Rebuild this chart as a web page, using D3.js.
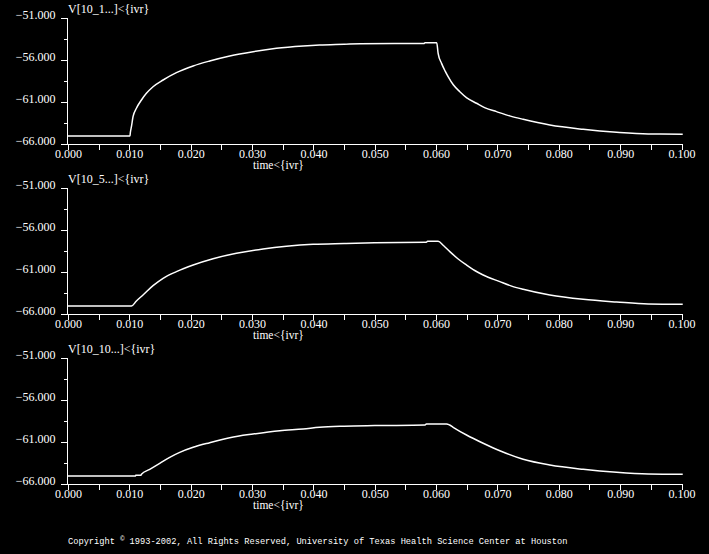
<!DOCTYPE html>
<html>
<head>
<meta charset="utf-8">
<script src="https://cdn.jsdelivr.net/npm/d3@7"></script>
<style>
  html, body { margin: 0; padding: 0; background: #000; }
  svg { display: block; }
</style>
</head>
<body>
<script>
// ---- data ----
const panelTitles = ["V[10_1...]<{ivr}", "V[10_5...]<{ivr}", "V[10_10...]<{ivr}"];
const xLabel = "time<{ivr}";
const xMajorTicks = [0, 0.01, 0.02, 0.03, 0.04, 0.05, 0.06, 0.07, 0.08, 0.09, 0.10];
const xMinorTicks = [0.005, 0.015, 0.025, 0.035, 0.045, 0.055, 0.065, 0.075, 0.085, 0.095];
const yMajorTicks = [-51, -56, -61, -66];
const yMinorTicks = [-53.5, -58.5, -63.5];
const copyrightA = "Copyright ";
const copyrightSym = "\u00A9";
const copyrightB = " 1993-2002, All Rights Reserved, University of Texas Health Science Center at Houston";

const time1 = [0, 0.0101, 0.01017, 0.01034, 0.0106, 0.01115, 0.01197, 0.01278, 0.01386, 0.0155, 0.01767, 0.0204, 0.0231, 0.02637, 0.03017, 0.03398, 0.03832, 0.041, 0.045, 0.0476, 0.058, 0.0582, 0.0601, 0.06033, 0.06089, 0.0615, 0.06196, 0.0628, 0.06387, 0.065, 0.06659, 0.068, 0.06985, 0.072, 0.07419, 0.07854, 0.08397, 0.08942, 0.09457, 0.1002];
const volt1 = [-65.05, -65.05, -64.6, -63.94, -62.75, -61.75, -60.76, -59.97, -59.18, -58.38, -57.51, -56.71, -56.12, -55.52, -55.01, -54.61, -54.33, -54.21, -54.12, -54.06, -54.04, -53.94, -53.94, -55.2, -56.4, -57.35, -57.98, -58.95, -59.77, -60.5, -61.15, -61.7, -62.15, -62.65, -63.06, -63.74, -64.25, -64.61, -64.81, -64.83];

const time2 = [0, 0.01034, 0.01115, 0.01223, 0.01386, 0.0155, 0.01767, 0.0204, 0.02364, 0.02746, 0.0318, 0.03561, 0.03995, 0.045, 0.05, 0.0584, 0.0586, 0.06033, 0.0612, 0.06224, 0.0636, 0.06496, 0.0663, 0.06767, 0.07039, 0.0722, 0.07419, 0.07854, 0.08397, 0.08942, 0.09457, 0.1002];
const volt2 = [-65.05, -65.05, -64.45, -63.74, -62.63, -61.75, -60.96, -60.17, -59.42, -58.77, -58.26, -57.94, -57.70, -57.6, -57.52, -57.47, -57.35, -57.35, -57.85, -58.58, -59.45, -60.17, -60.82, -61.36, -62.15, -62.65, -63.06, -63.74, -64.25, -64.57, -64.81, -64.85];

const time3 = [0, 0.0110, 0.01104, 0.0119, 0.01197, 0.01332, 0.01495, 0.01658, 0.01821, 0.0204, 0.0231, 0.02637, 0.03017, 0.03452, 0.03832, 0.041, 0.045, 0.05, 0.0582, 0.0584, 0.0617, 0.0622, 0.06278, 0.06496, 0.06767, 0.07039, 0.07419, 0.07854, 0.08397, 0.08942, 0.09457, 0.1002];
const volt3 = [-65.05, -65.05, -64.95, -64.95, -64.85, -64.25, -63.54, -62.82, -62.23, -61.63, -61.08, -60.49, -60.05, -59.65, -59.45, -59.25, -59.12, -59.05, -58.98, -58.86, -58.86, -58.98, -59.25, -60.17, -61.15, -62.04, -63.06, -63.74, -64.25, -64.61, -64.81, -64.85];

const seriesTimes = [time1, time2, time3];
const seriesVolts = [volt1, volt2, volt3];

// ---- drawing ----
const W = 709, H = 554;
const panelStep = 170;
const fg = "#ffffff";
const serif = "'Liberation Serif', 'Times New Roman', serif";

const svg = d3.select("body").append("svg")
  .attr("width", W).attr("height", H)
  .style("background", "#000");

const x = d3.scaleLinear().domain([0, 0.1]).range([68, 681.5]);
const y = d3.scaleLinear().domain([-66, -51]).range([144, 18]);

const line = d3.line()
  .x(d => x(d[0]))
  .y(d => y(d[1]))
  .curve(d3.curveMonotoneX);

panelTitles.forEach((title, i) => {
  const g = svg.append("g").attr("transform", `translate(0,${i * panelStep})`);

  // axis lines
  g.append("line").attr("x1", 67.5).attr("x2", 67.5).attr("y1", y(-51)).attr("y2", y(-66) + 0.5)
    .attr("stroke", fg).attr("stroke-width", 1).attr("shape-rendering", "crispEdges");
  g.append("line").attr("x1", 67).attr("x2", 683).attr("y1", y(-66) + 0.5).attr("y2", y(-66) + 0.5)
    .attr("stroke", fg).attr("stroke-width", 1).attr("shape-rendering", "crispEdges");

  // x axis major
  const xa = g.append("g").attr("transform", `translate(0,${y(-66)})`)
    .call(d3.axisBottom(x).tickValues(xMajorTicks).tickFormat(d3.format(".3f"))
      .tickSize(6).tickSizeOuter(0).tickPadding(0));
  xa.select(".domain").remove();
  xa.selectAll("line").attr("stroke", fg).attr("shape-rendering", "crispEdges");
  xa.selectAll("text").attr("y", 13.5).attr("dy", 0)
    .attr("fill", fg).style("font-family", serif).style("font-size", "12px");

  // x axis minor
  const xm = g.append("g").attr("transform", `translate(0,${y(-66)})`)
    .call(d3.axisBottom(x).tickValues(xMinorTicks).tickFormat("").tickSize(6).tickSizeOuter(0));
  xm.select(".domain").remove();
  xm.selectAll("line").attr("stroke", fg).attr("shape-rendering", "crispEdges");

  // y axis major
  const ya = g.append("g").attr("transform", `translate(67.5,0)`)
    .call(d3.axisLeft(y).tickValues(yMajorTicks).tickFormat(d3.format(".3f"))
      .tickSize(7).tickSizeOuter(0).tickPadding(5));
  ya.select(".domain").remove();
  ya.selectAll("line").attr("stroke", fg).attr("shape-rendering", "crispEdges");
  ya.selectAll("text").attr("dy", 0)
    .attr("fill", fg).style("font-family", serif).style("font-size", "12px");

  // y axis minor
  const ym = g.append("g").attr("transform", `translate(67.5,0)`)
    .call(d3.axisLeft(y).tickValues(yMinorTicks).tickFormat("").tickSize(4).tickSizeOuter(0));
  ym.select(".domain").remove();
  ym.selectAll("line").attr("stroke", fg).attr("shape-rendering", "crispEdges");

  // title
  g.append("text").attr("x", 68).attr("y", 13).text(title)
    .attr("fill", fg).style("font-family", serif).style("font-size", "12px");

  // x label
  g.append("text").attr("x", 253).attr("y", 168.5).text(xLabel)
    .attr("fill", fg).style("font-family", serif).style("font-size", "11.5px");

  // trace
  const pts = seriesTimes[i].map((t, k) => [t, seriesVolts[i][k]]);
  g.append("path").datum(pts).attr("d", line)
    .attr("fill", "none").attr("stroke", fg).attr("stroke-width", 1.5)
    .attr("stroke-linejoin", "round");
});

const ct = svg.append("text").attr("x", 68).attr("y", 544)
  .attr("fill", fg).style("font-family", "'Liberation Mono', 'DejaVu Sans Mono', monospace")
  .style("font-size", "8.7px");
ct.append("tspan").text(copyrightA);
ct.append("tspan").attr("dy", -3).style("font-size", "7px").text(copyrightSym);
ct.append("tspan").attr("dy", 3).text(copyrightB);
</script>
</body>
</html>
